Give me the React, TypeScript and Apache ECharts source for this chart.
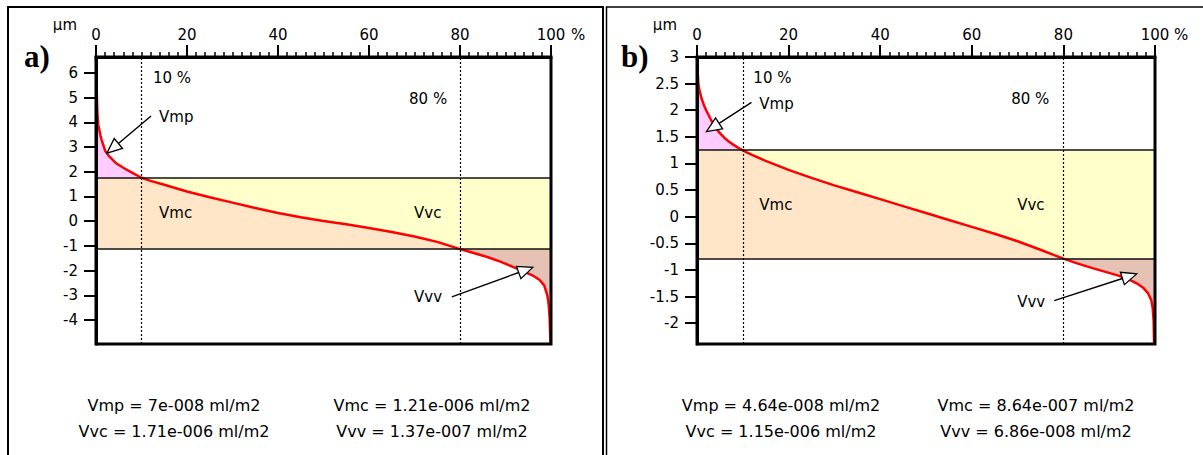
import React, { useEffect, useRef } from 'react';
import * as echarts from 'echarts';

// ---------- Panel a data ----------
const ratioA = [0, 0.1, 0.2, 0.3, 0.4, 0.5, 1, 1.25, 2, 3, 4.5, 6, 8, 10, 12, 15, 20, 25, 30, 35, 40, 45, 50, 55, 60, 65, 70, 75, 80, 83, 86, 89, 92, 94, 96, 97.5, 98.5, 99.2, 99.5, 99.7, 99.8, 99.9];
const heightA = [6.64, 6.0, 5.0, 4.4, 4.1, 3.89, 3.45, 3.28, 2.85, 2.6, 2.33, 2.16, 1.95, 1.755, 1.63, 1.47, 1.2, 0.97, 0.75, 0.53, 0.33, 0.16, 0.01, -0.13, -0.28, -0.44, -0.62, -0.84, -1.13, -1.29, -1.45, -1.65, -1.88, -2.03, -2.2, -2.38, -2.6, -3.0, -3.4, -3.9, -4.5, -4.97];
const upperA = 1.755;
const lowerA = -1.13;
const yRangeA = [-4.97, 6.64];
const yTicksA = [-4, -3, -2, -1, 0, 1, 2, 3, 4, 5, 6];
const labelTextA = ['10 %', 'Vmp', '80 %', 'Vmc', 'Vvc', 'Vvv'];
const labelPosA = [[12.5, 5.78], [13.85, 4.21], [68.8, 4.94], [13.85, 0.33], [69.9, 0.33], [69.9, -3.07]];
const arrowsA = [[12.1, 4.25, 2.4, 2.75], [78.2, -3.06, 96.0, -1.87]];
const summaryA = ['Vmp = 7e-008 ml/m2', 'Vmc = 1.21e-006 ml/m2', 'Vvc = 1.71e-006 ml/m2', 'Vvv = 1.37e-007 ml/m2'];

// ---------- Panel b data ----------
const ratioB = [0, 0.1, 0.3, 0.6, 1, 1.5, 2, 3, 4, 5, 6, 7, 8, 9, 10, 12, 15, 20, 25, 30, 35, 40, 45, 50, 55, 60, 65, 70, 75, 78, 80, 83, 86, 89, 92, 94, 96, 97.5, 98.5, 99.2, 99.5, 99.7, 99.8];
const heightB = [3.0, 2.8, 2.5, 2.35, 2.22, 2.1, 2.0, 1.83, 1.68, 1.57, 1.48, 1.41, 1.35, 1.295, 1.245, 1.16, 1.05, 0.88, 0.73, 0.59, 0.46, 0.33, 0.2, 0.07, -0.06, -0.19, -0.32, -0.46, -0.62, -0.72, -0.786, -0.875, -0.955, -1.03, -1.105, -1.165, -1.25, -1.34, -1.44, -1.57, -1.72, -1.95, -2.39];
const upperB = 1.245;
const lowerB = -0.786;
const yRangeB = [-2.39, 3];
const yTicksB = [-2, -1.5, -1, -0.5, 0, 0.5, 1, 1.5, 2, 2.5, 3];
const labelTextB = ['10 %', 'Vmp', '80 %', 'Vmc', 'Vvc', 'Vvv'];
const labelPosB = [[12.3, 2.61], [13.6, 2.12], [68.6, 2.216], [13.6, 0.224], [69.9, 0.224], [69.9, -1.6]];
const arrowsB = [[11.9, 2.147, 2.07, 1.6], [78.0, -1.575, 96.0, -1.073]];
const summaryB = ['Vmp = 4.64e-008 ml/m2', 'Vmc = 8.64e-007 ml/m2', 'Vvc = 1.15e-006 ml/m2', 'Vvv = 6.86e-008 ml/m2'];

const thresholdsX = [10, 80];

const PINK = '#FFCCFF';
const PEACH = '#FFE6C8';
const YELLOW = '#FFFFCC';
const BROWN = '#E5C2B3';
const FONT = '"DejaVu Sans"';

function panel(idx: number, p: any) {
  const { ratio, height, upper, lower, yRange, yTicks, labelText, labelPos, arrows, left, width } = p;
  const grid = {
    left, top: 57, width, height: 287,
    show: true, z: 10, backgroundColor: 'transparent',
    borderColor: '#000', borderWidth: 3,
  };
  const xAxis = {
    type: 'value', gridIndex: idx, position: 'top', min: 0, max: 100, interval: 20, z: 11,
    axisLine: { show: true, onZero: false, lineStyle: { color: '#000', width: 3 } },
    axisTick: { show: true, length: 12, lineStyle: { color: '#000', width: 2 } },
    minorTick: { show: true, splitNumber: 10, length: 5, lineStyle: { color: '#000', width: 1.5 } },
    axisLabel: { margin: 15, color: '#000', fontFamily: FONT, fontSize: 15, formatter: (v: number) => String(v) },
    splitLine: { show: false },
    minorSplitLine: { show: false },
  };
  const yAxis = {
    type: 'value', gridIndex: idx, min: yRange[0], max: yRange[1], z: 11,
    axisLine: { show: true, onZero: false, lineStyle: { color: '#000', width: 3 } },
    axisTick: { show: true, length: 12, lineStyle: { color: '#000', width: 2 }, customValues: yTicks },
    axisLabel: { margin: 18, color: '#000', fontFamily: FONT, fontSize: 15, customValues: yTicks, showMinLabel: true, showMaxLabel: true },
    splitLine: { show: false },
  };
  const n = ratio.length;
  const i10 = ratio.indexOf(thresholdsX[0]);
  const i80 = ratio.indexOf(thresholdsX[1]);
  const fills = {
    type: 'custom', xAxisIndex: idx, yAxisIndex: idx, z: 1, silent: true,
    data: [[0, 0]],
    renderItem: (params: any, api: any) => {
      const c = (x: number, y: number) => api.coord([x, y]);
      const pts = (a: number, b: number) => {
        const r: number[][] = [];
        for (let i = a; i <= b; i++) r.push(c(ratio[i], height[i]));
        return r;
      };
      const poly = (points: number[][], fill: string) => ({ type: 'polygon', shape: { points }, style: { fill, stroke: null }, silent: true });
      return {
        type: 'group',
        children: [
          poly([...pts(0, i10), c(0, upper)], PINK),
          poly([c(0, upper), ...pts(i10, i80), c(0, lower)], PEACH),
          poly([...pts(i10, i80), c(100, lower), c(100, upper)], YELLOW),
          poly([...pts(i80, n - 1), c(100, yRange[0]), c(100, lower)], BROWN),
        ],
      };
    },
  };
  const curve = {
    type: 'line', xAxisIndex: idx, yAxisIndex: idx, z: 3, silent: true,
    showSymbol: false, symbol: 'none', clip: true,
    lineStyle: { color: '#FF0000', width: 2.5 },
    data: ratio.map((x: number, i: number) => [x, height[i]]),
    markLine: {
      silent: true, symbol: ['none', 'none'], label: { show: false }, animation: false,
      data: [
        { xAxis: thresholdsX[0], lineStyle: { color: '#000', width: 1.2, type: [2, 2] } },
        { xAxis: thresholdsX[1], lineStyle: { color: '#000', width: 1.2, type: [2, 2] } },
        { yAxis: upper, lineStyle: { color: '#111', width: 1.5, type: 'solid' } },
        { yAxis: lower, lineStyle: { color: '#111', width: 1.5, type: 'solid' } },
      ],
    },
  };
  const arrowSeries = {
    type: 'custom', xAxisIndex: idx, yAxisIndex: idx, z: 5, silent: true,
    data: arrows,
    renderItem: (params: any, api: any) => {
      const p1 = api.coord([api.value(0), api.value(1)]);
      const p2 = api.coord([api.value(2), api.value(3)]);
      const dx = p2[0] - p1[0], dy = p2[1] - p1[1];
      const L = Math.hypot(dx, dy);
      const ux = dx / L, uy = dy / L;
      const hl = 15, hw = 6.5;
      const base = [p2[0] - ux * hl, p2[1] - uy * hl];
      const l = [base[0] - uy * hw, base[1] + ux * hw];
      const r = [base[0] + uy * hw, base[1] - ux * hw];
      return {
        type: 'group',
        children: [
          { type: 'line', shape: { x1: p1[0], y1: p1[1], x2: base[0], y2: base[1] }, style: { stroke: '#000', lineWidth: 1.4 } },
          { type: 'polygon', shape: { points: [p2, l, r] }, style: { fill: '#fff', stroke: '#000', lineWidth: 1.3 } },
        ],
      };
    },
  };
  const labelSeries = {
    type: 'custom', xAxisIndex: idx, yAxisIndex: idx, z: 6, silent: true,
    data: labelPos,
    renderItem: (params: any, api: any) => {
      const pt = api.coord([api.value(0), api.value(1)]);
      return {
        type: 'text', x: pt[0], y: pt[1],
        style: {
          text: labelText[params.dataIndex], fill: '#000', font: `15px ${FONT}`,
          align: 'left', verticalAlign: 'middle', textAlign: 'left', textVerticalAlign: 'middle',
        },
      };
    },
  };
  return { grid, xAxis, yAxis, series: [fills, curve, arrowSeries, labelSeries] };
}

function textEl(text: string, x: number, y: number, font: string, align = 'left', vAlign = 'middle') {
  return {
    type: 'text', x, y, silent: true,
    style: { text, fill: '#000', font, align, verticalAlign: vAlign, textAlign: align, textVerticalAlign: vAlign },
  };
}

function buildOption() {
  const a = panel(0, { ratio: ratioA, height: heightA, upper: upperA, lower: lowerA, yRange: yRangeA, yTicks: yTicksA, labelText: labelTextA, labelPos: labelPosA, arrows: arrowsA, left: 96, width: 455 });
  const b = panel(1, { ratio: ratioB, height: heightB, upper: upperB, lower: lowerB, yRange: yRangeB, yTicks: yTicksB, labelText: labelTextB, labelPos: labelPosB, arrows: arrowsB, left: 697, width: 458 });
  const sumFont = `16px ${FONT}`;
  const graphic: any[] = [
    { type: 'polyline', silent: true, shape: { points: [[8, 470], [8, 7], [603, 7], [603, 470]] }, style: { stroke: '#000', lineWidth: 2, fill: null } },
    { type: 'polyline', silent: true, shape: { points: [[1220, 7], [606.5, 7], [606.5, 470]] }, style: { stroke: '#000', lineWidth: 1.5, fill: null } },
    textEl('a)', 24, 56, 'bold 31px "Liberation Serif"'),
    textEl('b)', 621, 56, 'bold 31px "Liberation Serif"'),
    textEl('µm', 77, 25, `15px ${FONT}`, 'right'),
    textEl('µm', 677, 25, `15px ${FONT}`, 'right'),
    textEl('%', 571, 42, `15px ${FONT}`, 'left', 'bottom'),
    textEl('%', 1174, 42, `15px ${FONT}`, 'left', 'bottom'),
    textEl(summaryA[0], 174, 405, sumFont, 'center'),
    textEl(summaryA[1], 432, 405, sumFont, 'center'),
    textEl(summaryA[2], 174, 431, sumFont, 'center'),
    textEl(summaryA[3], 432, 431, sumFont, 'center'),
    textEl(summaryB[0], 781, 405, sumFont, 'center'),
    textEl(summaryB[1], 1036, 405, sumFont, 'center'),
    textEl(summaryB[2], 781, 431, sumFont, 'center'),
    textEl(summaryB[3], 1036, 431, sumFont, 'center'),
  ];
  return {
    animation: false,
    backgroundColor: '#fff',
    grid: [a.grid, b.grid],
    xAxis: [a.xAxis, b.xAxis],
    yAxis: [a.yAxis, b.yAxis],
    series: [...a.series, ...b.series],
    graphic,
  };
}

export default function App() {
  const ref = useRef<HTMLDivElement>(null);
  useEffect(() => {
    const chart = echarts.init(ref.current as HTMLDivElement, null, { renderer: 'svg' });
    chart.setOption(buildOption() as any);
    return () => chart.dispose();
  }, []);
  return <div ref={ref} style={{ position: 'absolute', left: 0, top: 0, width: 1203, height: 455, background: '#fff' }} />;
}
